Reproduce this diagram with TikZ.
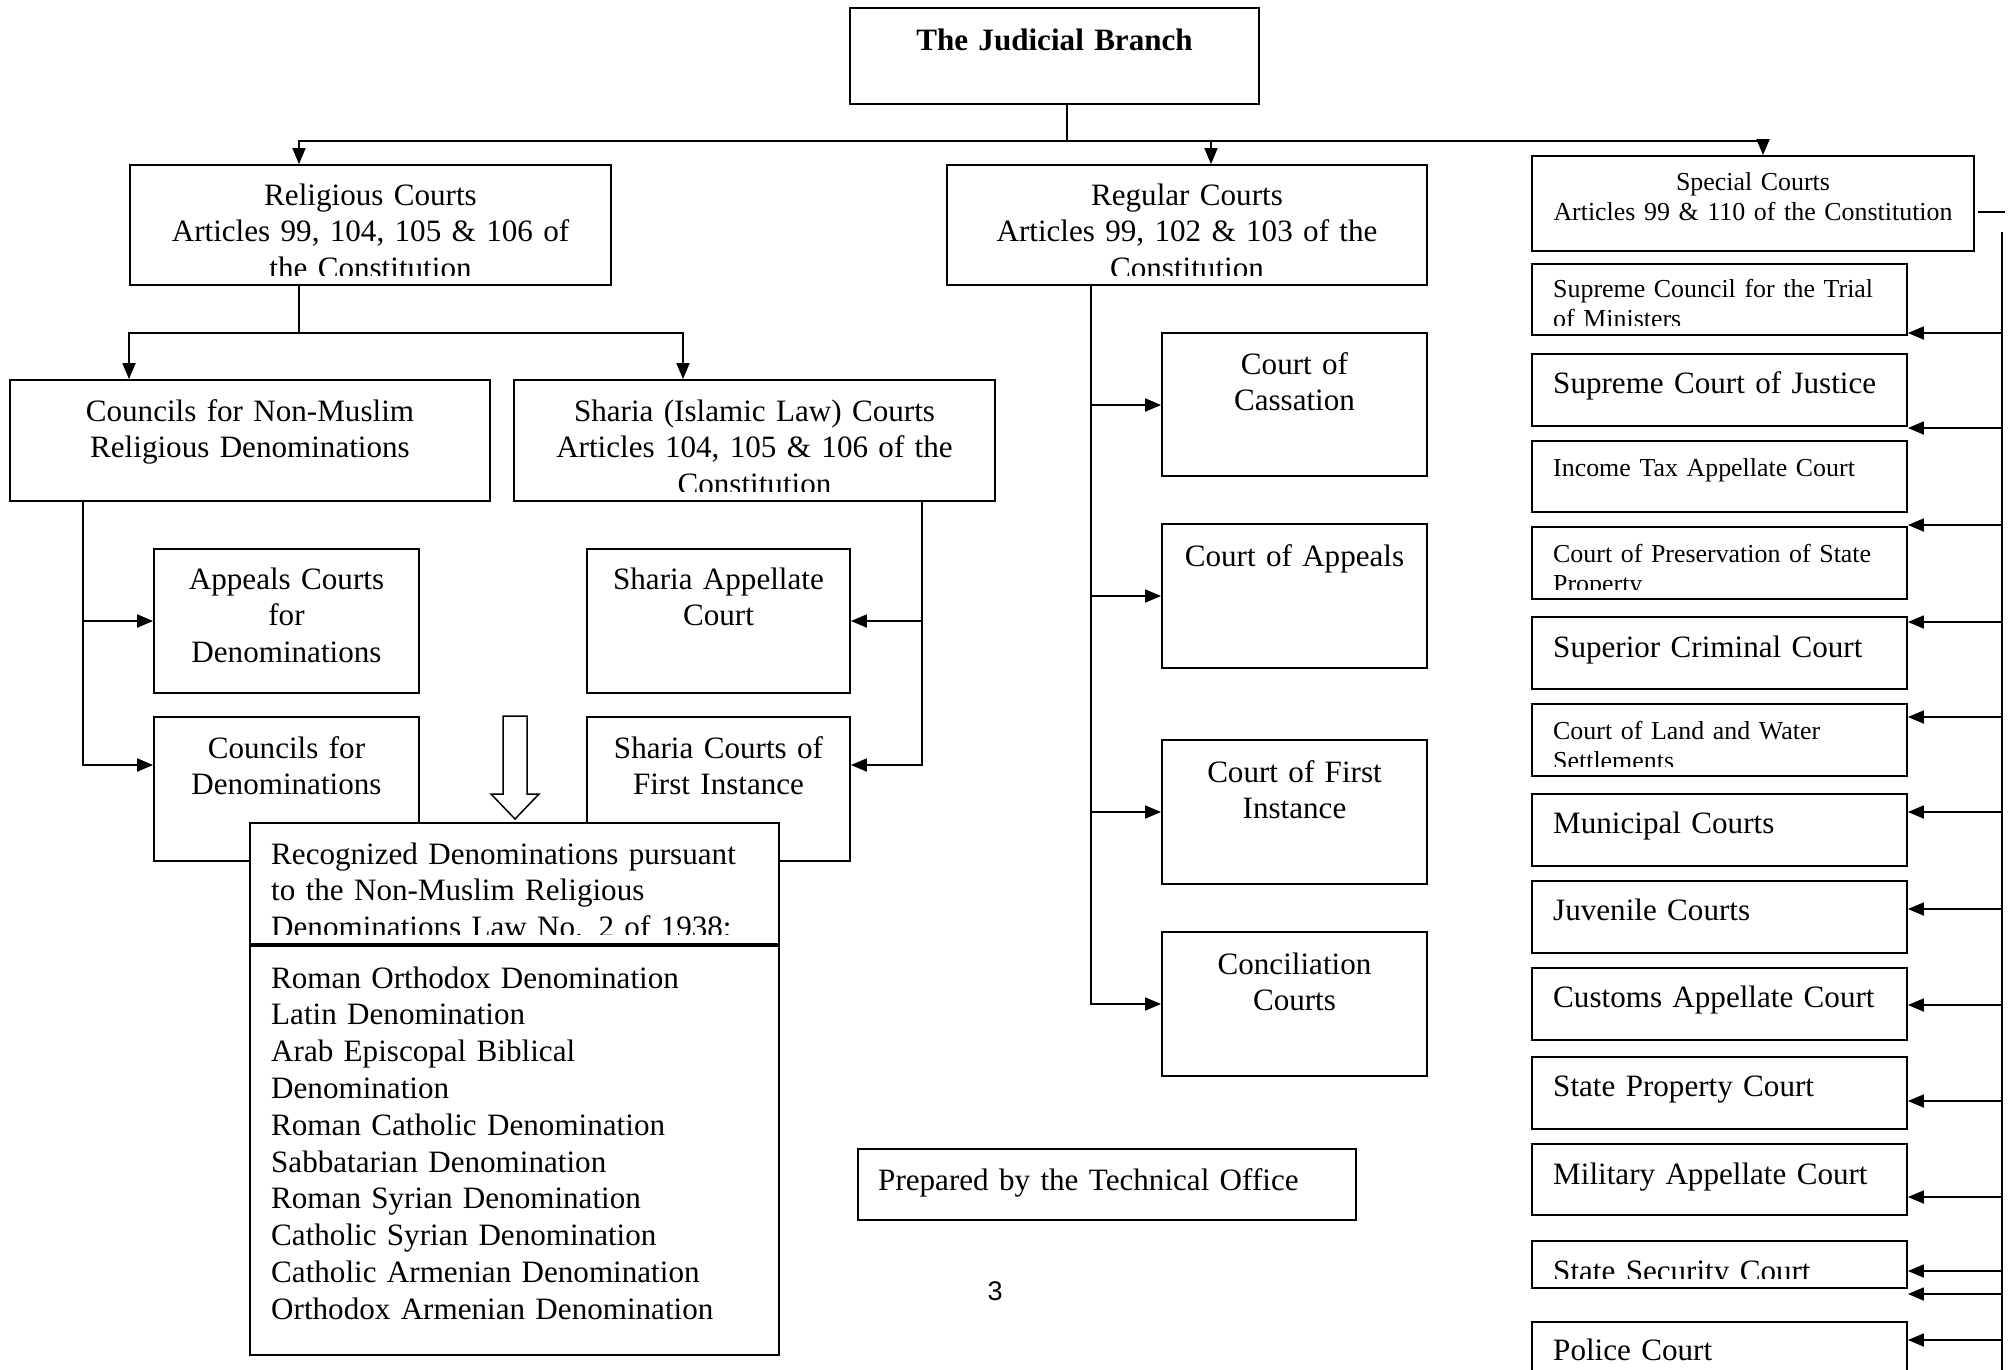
\documentclass[tikz,border=0pt]{standalone}
\usepackage{fontspec}
\setmainfont{Liberation Serif}
\newfontfamily\arialf{Liberation Sans}
\usetikzlibrary{arrows.meta,fit}
\newcommand\fbig{\fontsize{31.1}{36.8}\selectfont}
\newcommand\fsml{\fontsize{25.9}{30.7}\selectfont}
\newcommand\cbox[9]{%
  \node[boxst, fit={(#2,#3)(#4,#5)}] (#1) {};
  \begin{scope}
    \clip (#2,#3) rectangle (#4,#5-10);
    \node[txt, #6] (#1-t) at (#7,#8) {#9};
  \end{scope}}
\begin{document}
\begin{tikzpicture}[x=1pt,y=-1pt,
  ln/.style={line width=1.8pt, line cap=rect},
  boxst/.style={draw, line width=1.8pt, fill=white, inner sep=0pt, rectangle},
  txt/.style={inner sep=0pt, anchor=base},
  arr/.style={line width=1.8pt, -{Triangle[length=16pt,width=13pt]}},
  cen/.style={font=\fbig, align=center, text width=#1pt},
  csm/.style={font=\fsml, align=center, text width=#1pt},
  lft/.style={font=\fbig, align=left, text width=#1pt, anchor=base west},
  lsm/.style={font=\fsml, align=left, text width=#1pt, anchor=base west},
]
\useasboundingbox (0,0) rectangle (2008,1369);
\clip (0,0) rectangle (2008,1369);

% top level
\cbox{jb}{850}{8}{1259}{104}{cen=400, font=\fbig\bfseries}{1054.5}{50}{The Judicial Branch}
\cbox{rel}{130}{165}{611}{285}{cen=460}{370.5}{205}{Religious Courts\\Articles 99, 104, 105 \& 106 of\\the Constitution}
\cbox{reg}{947}{165}{1427}{285}{cen=460}{1187}{205}{Regular Courts\\Articles 99, 102 \& 103 of the\\Constitution}
\cbox{sp}{1532}{156}{1974}{251}{csm=430}{1753}{190}{Special Courts\\Articles 99 \& 110 of the Constitution}

% religious branch
\cbox{nm}{10}{380}{490}{501}{cen=460}{250}{421}{Councils for Non-Muslim\\Religious Denominations}
\cbox{sh}{514}{380}{995}{501}{cen=460}{754.5}{421}{Sharia (Islamic Law) Courts\\Articles 104, 105 \& 106 of the\\Constitution}
\cbox{ac}{154}{549}{419}{693}{cen=250}{286.5}{589}{Appeals Courts\\for\\Denominations}
\cbox{cd}{154}{717}{419}{861}{cen=250}{286.5}{758}{Councils for\\Denominations}
\cbox{sa}{587}{549}{850}{693}{cen=250}{718.5}{589}{Sharia Appellate\\Court}
\cbox{sf}{587}{717}{850}{861}{cen=250}{718.5}{758}{Sharia Courts of\\First Instance}

% hollow arrow
\draw[line width=1.5pt, fill=white] (503,716) -- (527,716) -- (527,794) -- (539,794)
  -- (515,819) -- (491,794) -- (503,794) -- cycle;

\cbox{rd}{250}{823}{779}{944}{lft=500}{271}{864}{Recognized Denominations pursuant\\to the Non-Muslim Religious\\Denominations Law No. 2 of 1938:}
\cbox{dl}{250}{946}{779}{1355}{lft=500}{271}{988}{Roman Orthodox Denomination\\Latin Denomination\\Arab Episcopal Biblical\\Denomination\\Roman Catholic Denomination\\Sabbatarian Denomination\\Roman Syrian Denomination\\Catholic Syrian Denomination\\Catholic Armenian Denomination\\Orthodox Armenian Denomination}

% regular branch
\cbox{rc1}{1162}{333}{1427}{476}{cen=250}{1294.5}{374}{Court of\\Cassation}
\cbox{rc2}{1162}{524}{1427}{668}{cen=250}{1294.5}{566}{Court of Appeals}
\cbox{rc3}{1162}{740}{1427}{884}{cen=250}{1294.5}{782}{Court of First\\Instance}
\cbox{rc4}{1162}{932}{1427}{1076}{cen=250}{1294.5}{974}{Conciliation\\Courts}

\cbox{pr}{858}{1149}{1356}{1220}{lft=480}{878}{1190}{Prepared by the Technical Office}

% special branch
\cbox{sc1}{1532}{264}{1907}{335}{lsm=360}{1553}{297}{Supreme Council for the Trial\\of Ministers}
\cbox{sc2}{1532}{354}{1907}{426}{lft=360}{1553}{393}{Supreme Court of Justice}
\cbox{sc3}{1532}{441}{1907}{512}{lsm=360}{1553}{476}{Income Tax Appellate Court}
\cbox{sc4}{1532}{527}{1907}{599}{lsm=360}{1553}{562}{Court of Preservation of State\\Property}
\cbox{sc5}{1532}{617}{1907}{689}{lft=360}{1553}{657}{Superior Criminal Court}
\cbox{sc6}{1532}{704}{1907}{776}{lsm=360}{1553}{739}{Court of Land and Water\\Settlements}
\cbox{sc7}{1532}{794}{1907}{866}{lft=360}{1553}{833}{Municipal Courts}
\cbox{sc8}{1532}{881}{1907}{953}{lft=360}{1553}{920}{Juvenile Courts}
\cbox{sc9}{1532}{968}{1907}{1040}{lft=360}{1553}{1007}{Customs Appellate Court}
\cbox{sc10}{1532}{1057}{1907}{1129}{lft=360}{1553}{1096}{State Property Court}
\cbox{sc11}{1532}{1144}{1907}{1215}{lft=360}{1553}{1184}{Military Appellate Court}
\cbox{sc12}{1532}{1241}{1907}{1288}{lft=360}{1553}{1281}{State Security Court}
\cbox{sc13}{1532}{1322}{1907}{1400}{lft=360}{1553}{1360}{Police Court}

\node[inner sep=0pt, font=\arialf\fontsize{27}{30}\selectfont] (pg) at (995,1291) {3};

% connectors: top
\coordinate (bus) at (1067,141);
\coordinate (busL) at (299,141);
\coordinate (busM) at (1211,141);
\coordinate (busR) at (1763,141);
\draw[ln] (jb.south -| bus) -- (bus);
\draw[ln] (busL) -- (busR);
\draw[arr] (busL) -- (busL |- rel.north);
\draw[arr] (busM) -- (busM |- reg.north);
\draw[arr] (busR) -- (busR |- sp.north);

% religious
\coordinate (rj) at (299,333);
\coordinate (rjL) at (129,333);
\coordinate (rjR) at (683,333);
\draw[ln] (rj |- rel.south) -- (rj);
\draw[ln] (rjL) -- (rjR);
\draw[arr] (rjL) -- (rjL |- nm.north);
\draw[arr] (rjR) -- (rjR |- sh.north);

\coordinate (nmA) at (83,621);
\coordinate (nmB) at (83,765);
\draw[ln] (nmB |- nm.south) -- (nmB);
\draw[arr] (nmA) -- (nmA -| ac.west);
\draw[arr] (nmB) -- (nmB -| cd.west);

\coordinate (shA) at (922,621);
\coordinate (shB) at (922,765);
\draw[ln] (shB |- sh.south) -- (shB);
\draw[arr] (shA) -- (shA -| sa.east);
\draw[arr] (shB) -- (shB -| sf.east);

% regular
\coordinate (rg1) at (1091,405);
\coordinate (rg2) at (1091,596);
\coordinate (rg3) at (1091,812);
\coordinate (rg4) at (1091,1004);
\draw[ln] (rg4 |- reg.south) -- (rg4);
\foreach \i in {1,2,3,4} \draw[arr] (rg\i) -- (rg\i -| rc\i.west);

% special
\coordinate (stubA) at (1979,212);
\coordinate (stubB) at (2004,212);
\draw[ln] (stubA) -- (stubB);
\coordinate (spTop) at (2002,233);
\coordinate (spBot) at (2002,1369);
\draw[ln] (spTop) -- (spBot);
\foreach \i/\y in {1/333,2/428,3/525,4/622,5/717,6/812,7/909,8/1005,9/1101,10/1197,11/1271,12/1294,13/1340}{
  \coordinate (sq\i) at (2002,\y);
  \draw[arr] (sq\i) -- (sq\i -| sc\i.east);
}
\end{tikzpicture}
\end{document}
